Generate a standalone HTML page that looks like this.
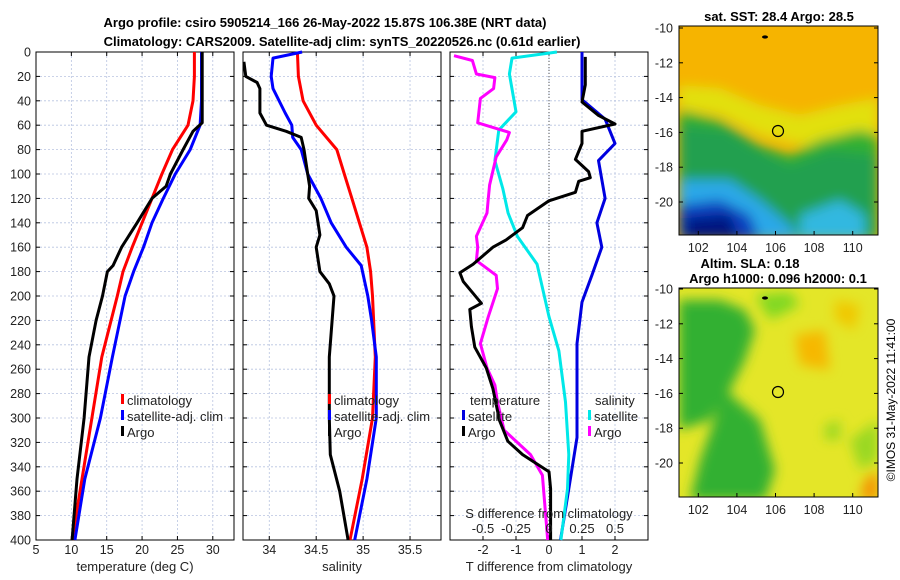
<!DOCTYPE html>
<html><head><meta charset="utf-8"><style>
body{margin:0;background:#fff;}
svg{display:block;font-family:"Liberation Sans",sans-serif;}
</style></head><body>
<svg id="c" width="900" height="580" viewBox="0 0 900 580" xmlns="http://www.w3.org/2000/svg">
<defs>
<filter id="bl" x="-20%" y="-20%" width="140%" height="140%"><feGaussianBlur stdDeviation="6"/></filter>
<clipPath id="m1"><rect x="679" y="26" width="199" height="209"/></clipPath>
<clipPath id="m2"><rect x="679" y="288" width="199" height="209"/></clipPath>
</defs>
<text x="325" y="27" font-size="13" font-weight="bold" text-anchor="middle">Argo profile: csiro 5905214_166 26-May-2022 15.87S 106.38E (NRT data)</text>
<text x="342" y="46" font-size="13" font-weight="bold" text-anchor="middle">Climatology: CARS2009. Satellite-adj clim: synTS_20220526.nc (0.61d earlier)</text>
<g id="panels"></g>
<!-- maps -->
<g clip-path="url(#m1)">
<rect x="679" y="26" width="199" height="209" fill="#f6b400"/>
<g filter="url(#bl)">
<polygon points="679,85 720,88 760,105 800,115 840,105 878,98 878,140 800,145 760,135 720,115 679,108" fill="#e2e010"/>
<polygon points="679,110 720,120 760,145 790,155 820,140 860,130 878,135 878,240 679,240" fill="#30b030"/>
<polygon points="679,125 730,130 760,150 790,165 830,150 878,155 878,240 679,240" fill="#22a050"/>
<polygon points="679,180 730,180 760,200 790,225 800,240 679,240" fill="#2aa8e8"/>
<polygon points="800,215 840,200 865,215 865,240 800,240" fill="#30b8e0"/>
<polygon points="679,205 720,200 750,215 760,240 679,240" fill="#1040c0"/>
<polygon points="685,218 730,214 740,240 685,240" fill="#001880"/>
</g>
<circle cx="778" cy="131" r="5.5" fill="none" stroke="#000" stroke-width="1.2"/>
<ellipse cx="765" cy="37" rx="3" ry="1.6" fill="#000"/>
</g>
<rect x="679" y="26" width="199" height="209" fill="none" stroke="#000"/>
<g clip-path="url(#m2)">
<rect x="679" y="288" width="199" height="209" fill="#e4e628"/>
<g filter="url(#bl)">
<polygon points="679,300 720,300 745,310 755,330 745,360 730,390 710,420 679,430" fill="#30b030"/>
<polygon points="755,295 790,292 800,305 770,320" fill="#80d820"/>
<polygon points="700,460 725,390 760,420 775,470 765,500 690,500" fill="#30b030"/>
<polygon points="795,335 825,330 830,370 800,365" fill="#f6b800"/>
<polygon points="850,440 878,420 878,460 860,470" fill="#9ad820"/>
<polygon points="825,425 840,420 840,440 825,440" fill="#9ad820"/>
<polygon points="865,480 878,470 878,500 860,500" fill="#f59000"/>
<polygon points="835,300 860,305 855,330 835,320" fill="#f0c800"/>
</g>
<circle cx="778" cy="392" r="5.5" fill="none" stroke="#000" stroke-width="1.2"/>
<ellipse cx="765" cy="298" rx="3" ry="1.6" fill="#000"/>
</g>
<rect x="679" y="288" width="199" height="209" fill="none" stroke="#000"/>
<text x="779" y="21" font-size="13" font-weight="bold" text-anchor="middle">sat. SST: 28.4 Argo: 28.5</text>
<text x="750" y="268" font-size="13" font-weight="bold" text-anchor="middle">Altim. SLA: 0.18</text>
<text x="778" y="283" font-size="13" font-weight="bold" text-anchor="middle">Argo h1000: 0.096 h2000: 0.1</text>
<text transform="translate(895,400) rotate(-90)" font-size="12" text-anchor="middle">©IMOS 31-May-2022 11:41:00</text>
<g id="mapaxes"></g>
</svg>
<script>
// ---- data ----
const depths = [0,20,40,60,80,100,120,140,160,180,200,250,300,350,400];
const tempClim = [27.4,27.4,27.2,26.5,24.3,22.8,21.4,20.0,18.6,17.3,16.5,14.3,12.9,11.5,10.1];
const tempSat  = [28.4,28.4,28.4,28.2,26.8,24.7,23.0,21.4,20.2,18.8,17.6,15.8,14.1,11.9,10.5];
const argoTDepth = [0,58,65,80,100,110,120,140,160,175,180,200,220,250,300,350,400];
const argoT = [28.5,28.5,27.2,25.8,24.0,23.4,21.4,19.3,17.1,15.9,15.1,14.4,13.5,12.5,11.8,10.8,10.1];
const salClim = [34.30,34.31,34.36,34.50,34.72,34.80,34.88,34.96,35.04,35.08,35.10,35.13,35.10,34.99,34.86];
const salSatDepth = [0,5,20,30,50,60,70,80,100,120,140,160,175,200,220,250,300,350,400];
const salSat = [34.35,34.04,34.02,34.04,34.17,34.24,34.25,34.34,34.41,34.55,34.66,34.82,34.98,35.05,35.09,35.14,35.14,35.04,34.91];
const argoSDepth = [8,20,25,30,50,60,65,70,80,100,110,120,130,150,160,180,190,200,250,300,330,360,400];
const argoS = [33.73,33.75,33.87,33.90,33.90,33.97,34.18,34.34,34.37,34.41,34.43,34.42,34.50,34.54,34.50,34.54,34.64,34.69,34.64,34.64,34.65,34.75,34.84];
const dTSatDepth = [0,39,55,75,89,120,140,160,183,205,239,273,316,358,400];
const dTSat = [1.0,1.0,1.7,2.0,1.5,1.7,1.45,1.6,1.3,1.0,0.85,0.85,0.85,0.6,0.35];
const dTArgoDepth = [4,27,41,52,59,65,75,88,98,103,106,115,122,134,144,154,160,174,181,188,206,211,225,242,259,276,302,319,330,344,358,400];
const dTArgo = [1.1,1.1,1.0,1.5,2.0,1.0,1.0,0.8,1.2,1.25,0.9,0.8,0.0,-0.65,-0.8,-1.3,-1.7,-2.3,-2.7,-2.6,-2.05,-2.4,-2.35,-2.25,-1.9,-1.7,-1.5,-1.25,-0.8,0.0,0.05,0.05];
const dSSatDepth = [0,5,18,49,64,89,112,132,151,174,217,245,287,330,358,400];
const dSSat = [0.06,-0.28,-0.30,-0.25,-0.38,-0.41,-0.35,-0.31,-0.24,-0.09,0.0,0.075,0.125,0.15,0.14,0.09];
const dSArgoDepth = [3,7,18,21,30,38,58,66,72,86,109,120,132,151,160,171,183,194,217,239,259,273,287,310,330,347,400];
const dSArgo = [-0.72,-0.58,-0.55,-0.41,-0.42,-0.52,-0.54,-0.30,-0.32,-0.40,-0.45,-0.46,-0.47,-0.55,-0.54,-0.55,-0.40,-0.39,-0.46,-0.52,-0.47,-0.41,-0.39,-0.34,-0.14,-0.05,-0.01];
const depthTicks = [0,20,40,60,80,100,120,140,160,180,200,220,240,260,280,300,320,340,360,380,400];
const tempTicks = [5,10,15,20,25,30];
const salTicks = [34,34.5,35,35.5];
const salTickLabels = ["34","34.5","35","35.5"];
const dTTicks = [-2,-1,0,1,2];
const dSTicks = [-0.5,-0.25,0,0.25,0.5];
const dSTickLabels = ["-0.5","-0.25","0","0.25","0.5"];
const lonTicks = [102,104,106,108,110];
const latTicks = [-10,-12,-14,-16,-18,-20];

const NS="http://www.w3.org/2000/svg";
const G=document.getElementById('panels');
function mk(tag,attrs,parent,text){const e=document.createElementNS(NS,tag);for(const k in attrs)e.setAttribute(k,attrs[k]);if(text!==undefined)e.textContent=text;(parent||G).appendChild(e);return e;}
const TOP=52,BOT=540;
const yD=d=>TOP+d*(BOT-TOP)/400;
function panel(x0,x1,vmin,vmax,name){
  const xs=v=>x0+(v-vmin)/(vmax-vmin)*(x1-x0);
  const g=mk('g',{});
  
  
  return {x0,x1,xs,g};
}
function gridAndFrame(p,xticks,xlabels,ylabelled){
  depthTicks.forEach(d=>{
    const l=mk('line',{x1:p.x0,x2:p.x1,y1:yD(d),y2:yD(d),stroke:'#b8c4e0','stroke-width':0.8,'stroke-dasharray':'2,2'},p.g);
    
    
    mk('line',{x1:p.x0,x2:p.x0+4,y1:yD(d),y2:yD(d),stroke:'#000'},p.g);
    mk('line',{x1:p.x1-4,x2:p.x1,y1:yD(d),y2:yD(d),stroke:'#000'},p.g);
    if(ylabelled){const t=mk('text',{x:p.x0-5,y:yD(d)+4.5,'font-size':12.5,'text-anchor':'end',fill:'#222'},p.g,String(d));
      
      }
  });
  xticks.forEach((v,i)=>{
    const x=p.xs(v);
    mk('line',{x1:x,x2:x,y1:TOP,y2:BOT,stroke:'#b8c4e0','stroke-width':0.8,'stroke-dasharray':'2,2'},p.g);
    mk('line',{x1:x,x2:x,y1:BOT-4,y2:BOT,stroke:'#000'},p.g);
    mk('line',{x1:x,x2:x,y1:TOP,y2:TOP+4,stroke:'#000'},p.g);
    const t=mk('text',{x:x,y:BOT+14,'font-size':12.5,'text-anchor':'middle',fill:'#222'},p.g,xlabels[i]);
    
    
  });
  mk('rect',{x:p.x0,y:TOP,width:p.x1-p.x0,height:BOT-TOP,fill:'none',stroke:'#000'},p.g);
}
function line(p,vals,ds,color,name,xs){
  const f=xs||p.xs;
  const pts=vals.map((v,i)=>f(v).toFixed(1)+','+yD(ds[i]).toFixed(1)).join(' ');
  const e=mk('polyline',{points:pts,fill:'none',stroke:color,'stroke-width':3,'stroke-linejoin':'round'},p.g);
  
  
}
function label(x,y,txt,name,anchor){const t=mk('text',{x:x,y:y,'font-size':13,'text-anchor':anchor||'start',fill:'#222'},G,txt);
  
  }
function leg(x,y,color,txt,name){
  mk('rect',{x:x,y:y-11,width:3,height:10,fill:color},G);
  const t=mk('text',{x:x+6,y:y,'font-size':13,fill:'#222'},G,txt);
  
  
}
// Temperature panel
const p1=panel(36,234,5,33,'temperature-panel');
gridAndFrame(p1,tempTicks,tempTicks.map(String),true);
line(p1,tempClim,depths,'#ff0000','temp-climatology-line');
line(p1,tempSat,depths,'#0000ff','temp-satellite-line');
line(p1,argoT,argoTDepth,'#000','temp-argo-line');
label(135,571,'temperature (deg C)','temperature-axis-title','middle');
leg(121,405,'#ff0000','climatology','legend-climatology');
leg(121,421,'#0000ff','satellite-adj. clim','legend-satellite');
leg(121,437,'#000','Argo','legend-argo');
// Salinity panel
const p2=panel(243,441,33.72,35.83,'salinity-panel');
gridAndFrame(p2,salTicks,salTickLabels,false);
line(p2,salClim,depths,'#ff0000','sal-climatology-line');
line(p2,salSat,salSatDepth,'#0000ff','sal-satellite-line');
line(p2,argoS,argoSDepth,'#000','sal-argo-line');
label(342,571,'salinity','salinity-axis-title','middle');
leg(328,405,'#ff0000','climatology','legend-climatology-2');
leg(328,421,'#0000ff','satellite-adj. clim','legend-satellite-2');
leg(328,437,'#000','Argo','legend-argo-2');
// Diff panel
const p3=panel(450,648,-3,3,'difference-panel');
gridAndFrame(p3,dTTicks,dTTicks.map(String),false);
const zx=p3.xs(0);
mk('line',{x1:zx,x2:zx,y1:TOP,y2:BOT,stroke:'#555','stroke-dasharray':'1,2','stroke-width':1},p3.g);
const xsS=v=>p3.xs(v*4);
line(p3,dTSat,dTSatDepth,'#0000e0','tdiff-satellite-line');
line(p3,dSSat,dSSatDepth,'#00e8e8','sdiff-satellite-line',xsS);
line(p3,dSArgo,dSArgoDepth,'#ff00ff','sdiff-argo-line',xsS);
line(p3,dTArgo,dTArgoDepth,'#000','tdiff-argo-line');
label(549,571,'T difference from climatology','tdiff-axis-title','middle');
label(549,518,'S difference from climatology','sdiff-axis-title','middle');
dSTicks.forEach((v,i)=>label(xsS(v),533,dSTickLabels[i],'sdiff-tick-label','middle'));
label(470,405,'temperature','legend-temperature-heading');
leg(462,421,'#0000e0','satellite','legend-t-satellite');
leg(462,437,'#000','Argo','legend-t-argo');
label(595,405,'salinity','legend-salinity-heading');
leg(588,421,'#00e8e8','satellite','legend-s-satellite');
leg(588,437,'#ff00ff','Argo','legend-s-argo');
// map axes
const MA=document.getElementById('mapaxes');
const lonX=l=>679+(l-101)*19.3;
function mapAxes(top,bot,lat10y,pxPerDeg){
  lonTicks.forEach(l=>{
    const x=lonX(l);
    mk('line',{x1:x,x2:x,y1:bot-4,y2:bot,stroke:'#000'},MA);
    const t=mk('text',{x:x,y:bot+17,'font-size':12.5,'text-anchor':'middle',fill:'#222'},MA,String(l));
    
    
  });
  latTicks.forEach(la=>{
    const y=lat10y+(-10-la)*pxPerDeg;
    mk('line',{x1:679,x2:683,y1:y,y2:y,stroke:'#000'},MA);
    mk('line',{x1:874,x2:878,y1:y,y2:y,stroke:'#000'},MA);
    const t=mk('text',{x:673,y:y+4.5,'font-size':12.5,'text-anchor':'end',fill:'#222'},MA,String(la));
    
    
  });
}
mapAxes(26,235,28,17.4);
mapAxes(288,497,289,17.4);
</script>
</body></html>
